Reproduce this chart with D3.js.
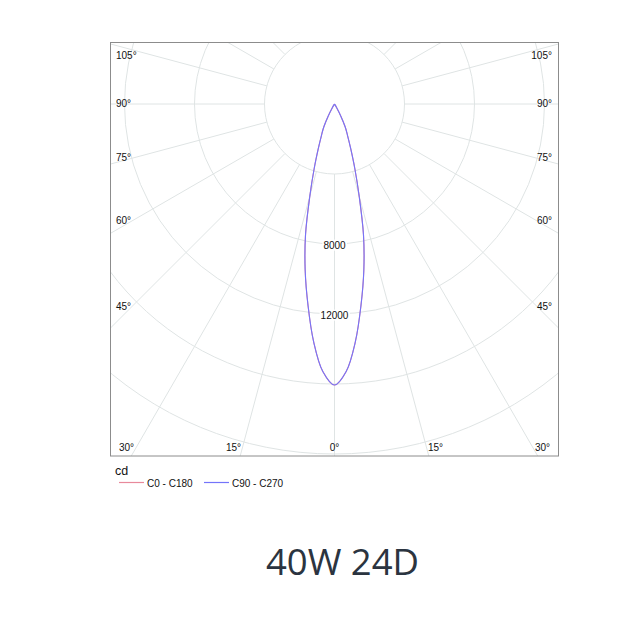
<!DOCTYPE html>
<html>
<head>
<meta charset="utf-8">
<script src="https://cdn.jsdelivr.net/npm/d3@7"></script>
<style>
  html, body { margin: 0; padding: 0; background: #fff; }
  svg { display: block; }
</style>
</head>
<body>
<svg id="chart" width="624" height="623"></svg>
<script>
// ---- data ----
const gammaAngles = [0, 2.5, 5, 7.5, 10, 12.5, 15, 17.5, 20, 22.5, 25, 27.5, 30, 32.5, 35, 40, 45, 50, 55, 60, 65, 70, 75, 80, 85, 90];
const c0c180 =      [16060, 15300, 13650, 11600, 9650, 7650, 5450, 3850, 2700, 1950, 1450, 800, 250, 60, 20, 0, 0, 0, 0, 0, 0, 0, 0, 0, 0, 0];
const c90c270 =     [16060, 15300, 13650, 11600, 9650, 7650, 5450, 3850, 2700, 1950, 1450, 800, 250, 60, 20, 0, 0, 0, 0, 0, 0, 0, 0, 0, 0, 0];
const ringValues = [4000, 8000, 12000, 16000, 20000, 24000];
const ringLabels = [8000, 12000];
const spokeAngles = d3.range(-180, 180, 15);
const sideLabels = [105, 90, 75, 60, 45];
const bottomLabels = [-30, -15, 0, 15, 30];
const seriesNames = ["C0 - C180", "C90 - C270"];
const seriesColors = ["#e8899b", "#7474fa"];
const unitLabel = "cd";
const title = "40W 24D";

// ---- layout ----
const svg = d3.select("#chart");
const box = { x0: 110.5, y0: 42.5, x1: 558.5, y1: 456 };
const cx = 334.5, cy = 104;
const r = d3.scaleLinear().domain([0, 24000]).range([0, 420]);
const rad = a => a * Math.PI / 180;
const font = "'Liberation Sans', Arial, sans-serif";

svg.append("defs").append("clipPath").attr("id", "clipBox")
  .append("rect").attr("x", box.x0).attr("y", box.y0)
  .attr("width", box.x1 - box.x0).attr("height", box.y1 - box.y0);

const grid = svg.append("g").attr("clip-path", "url(#clipBox)");
const gridColor = "#dfe4e4";

const rMin = r(ringValues[0]), rMax = r(30000);
grid.selectAll("line.spoke").data(spokeAngles).join("line")
  .attr("x1", d => cx + rMin * Math.sin(rad(d)))
  .attr("y1", d => cy + rMin * Math.cos(rad(d)))
  .attr("x2", d => cx + rMax * Math.sin(rad(d)))
  .attr("y2", d => cy + rMax * Math.cos(rad(d)))
  .attr("stroke", gridColor).attr("stroke-width", 1);

grid.selectAll("circle.ring").data(ringValues).join("circle")
  .attr("cx", cx).attr("cy", cy).attr("r", d => r(d))
  .attr("fill", "none").attr("stroke", gridColor).attr("stroke-width", 1);

// ring labels with white background
const rl = svg.append("g");
ringLabels.forEach(v => {
  const t = rl.append("text")
    .attr("x", cx).attr("y", cy + r(v) + 2)
    .attr("text-anchor", "middle").attr("dominant-baseline", "middle")
    .attr("font-family", font).attr("font-size", 10).attr("fill", "#111")
    .text(v);
  const bb = t.node().getBBox();
  rl.insert("rect", "text").attr("x", bb.x - 1).attr("y", bb.y)
    .attr("width", bb.width + 2).attr("height", bb.height).attr("fill", "#fff");
});

// angle labels
const lab = svg.append("g").attr("font-family", font).attr("font-size", 10).attr("fill", "#111");
sideLabels.forEach(a => {
  const y = Math.max(box.y0 + 13.5, cy + 203 / Math.tan(rad(a)));
  lab.append("text").attr("x", box.x0 + 5.5).attr("y", y).attr("dominant-baseline", "middle").text(a + "°");
  lab.append("text").attr("x", box.x1 - 6.5).attr("y", y).attr("text-anchor", "end").attr("dominant-baseline", "middle").text(a + "°");
});
bottomLabels.forEach(a => {
  const dx = Math.sign(a) * Math.min(377 * Math.tan(rad(Math.abs(a))), 208);
  lab.append("text").attr("x", cx + dx).attr("y", box.y1 - 8).attr("text-anchor", "middle")
    .attr("dominant-baseline", "middle").text(Math.abs(a) + "°");
});

// frame
svg.append("rect").attr("x", box.x0).attr("y", box.y0)
  .attr("width", box.x1 - box.x0).attr("height", box.y1 - box.y0)
  .attr("fill", "none").attr("stroke", "#8c8c8c").attr("stroke-width", 1);

// curves
function fullCurve(vals) {
  const pts = [];
  for (let i = gammaAngles.length - 1; i > 0; i--) pts.push({ a: -gammaAngles[i], v: vals[i] });
  for (let i = 0; i < gammaAngles.length; i++) pts.push({ a: gammaAngles[i], v: vals[i] });
  return pts;
}
const radial = d3.lineRadial()
  .angle(d => Math.PI - rad(d.a))
  .radius(d => r(d.v))
  .curve(d3.curveCatmullRom.alpha(0.5));
const curves = svg.append("g").attr("transform", `translate(${cx},${cy})`);
[c0c180, c90c270].forEach((vals, i) => {
  curves.append("path").attr("d", radial(fullCurve(vals)))
    .attr("fill", "none").attr("stroke", seriesColors[i]).attr("stroke-width", 1.1)
    .attr("stroke-linejoin", "round");
});

// legend
svg.append("text").attr("x", 115).attr("y", 475).attr("font-family", font).attr("font-size", 12.5)
  .attr("fill", "#111").text(unitLabel);
const legX = [119, 204];
seriesNames.forEach((n, i) => {
  svg.append("line").attr("x1", legX[i]).attr("x2", legX[i] + 25).attr("y1", 482.5).attr("y2", 482.5)
    .attr("stroke", seriesColors[i]).attr("stroke-width", 1.2);
  svg.append("text").attr("x", legX[i] + 28).attr("y", 486.5).attr("font-family", font).attr("font-size", 10)
    .attr("fill", "#111").text(n);
});

// title
svg.append("text").attr("x", 342.5).attr("y", 575).attr("text-anchor", "middle")
  .attr("font-family", "'Open Sans', 'Noto Sans', sans-serif").attr("font-size", 36.5)
  .attr("fill", "#2b3440").text(title);
</script>
</body>
</html>
